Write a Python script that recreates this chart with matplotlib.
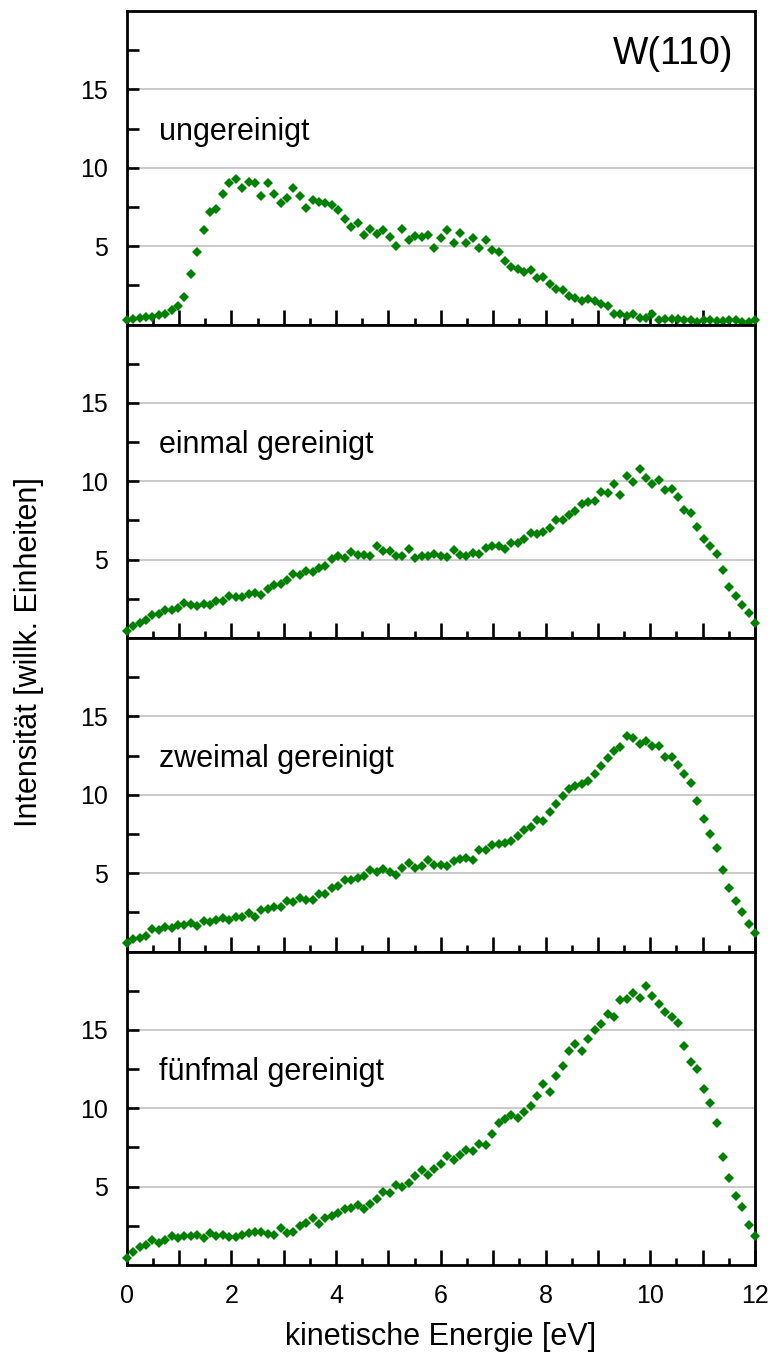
import numpy as np
import matplotlib
matplotlib.use("Agg")
import matplotlib.pyplot as plt
from matplotlib.ticker import MultipleLocator

plt.rcParams['font.family'] = ['Liberation Sans', 'DejaVu Sans']

# kinetic energy axis, 99 channels from 0 to 12 eV
energie = np.linspace(0, 12, 99)

ungereinigt = [
    0.30, 0.34, 0.43, 0.47, 0.47, 0.60, 0.68, 0.90, 1.15, 1.75,
    3.2, 4.6, 6.0, 7.2, 7.35, 8.35, 9.0, 9.3, 8.7, 9.1,
    9.0, 8.2, 9.0, 8.3, 7.75, 8.1, 8.7, 8.2, 7.45, 7.95,
    7.8, 7.75, 7.65, 7.3, 6.7, 6.25, 6.5, 5.7, 6.1, 5.8,
    6.05, 5.6, 5.0, 6.1, 5.36, 5.64, 5.57, 5.68, 4.89, 5.49,
    6.0, 5.23, 5.85, 5.23, 5.49, 4.89, 5.38, 4.77, 4.6, 4.06,
    3.66, 3.53, 3.34, 3.45, 2.94, 3.06, 2.6, 2.26, 2.17, 1.79,
    1.7, 1.53, 1.64, 1.49, 1.32, 1.15, 0.68, 0.68, 0.55, 0.68,
    0.43, 0.43, 0.64, 0.26, 0.34, 0.34, 0.34, 0.3, 0.26, 0.17,
    0.26, 0.26, 0.21, 0.21, 0.3, 0.26, 0.13, 0.17, 0.26,
]

einmal = [
    0.42, 0.78, 0.95, 1.12, 1.44, 1.55, 1.8, 1.76, 1.93, 2.23,
    2.12, 2.04, 2.19, 2.12, 2.38, 2.36, 2.66, 2.61, 2.61, 2.78,
    2.87, 2.72, 3.14, 3.4, 3.42, 3.68, 4.06, 4.04, 4.27, 4.23,
    4.48, 4.59, 5.04, 5.23, 5.1, 5.47, 5.28, 5.27, 5.21, 5.9,
    5.52, 5.58, 5.22, 5.26, 5.68, 5.1, 5.23, 5.2, 5.36, 5.26,
    5.15, 5.6, 5.28, 5.2, 5.43, 5.39, 5.71, 5.89, 5.88, 5.69,
    6.07, 6.03, 6.33, 6.72, 6.65, 6.76, 7.04, 7.55, 7.5, 7.82,
    8.08, 8.57, 8.66, 8.74, 9.29, 9.27, 9.82, 9.1, 10.33, 9.97,
    10.78, 10.2, 9.82, 10.08, 9.46, 9.53, 9.0, 8.14, 7.97, 7.08,
    6.33, 5.89, 5.34, 4.31, 3.26, 2.7, 2.08, 1.59, 0.98,
]

zweimal = [
    0.57, 0.77, 0.87, 1.0, 1.43, 1.34, 1.55, 1.51, 1.7, 1.66,
    1.83, 1.64, 1.94, 1.87, 1.98, 2.15, 1.98, 2.23, 2.19, 2.45,
    2.23, 2.62, 2.7, 2.83, 2.83, 3.21, 3.15, 3.43, 3.3, 3.3,
    3.68, 3.64, 4.06, 4.15, 4.53, 4.57, 4.66, 4.83, 5.17, 5.09,
    5.26, 5.09, 4.85, 5.34, 5.64, 5.34, 5.47, 5.81, 5.55, 5.53,
    5.45, 5.77, 5.87, 5.98, 5.81, 6.49, 6.45, 6.79, 6.83, 6.94,
    7.04, 7.36, 7.77, 7.94, 8.36, 8.3, 8.87, 9.43, 9.94, 10.38,
    10.57, 10.66, 10.87, 11.34, 11.83, 12.36, 12.79, 13.04, 13.74, 13.62,
    13.21, 13.43, 13.11, 13.09, 12.4, 12.4, 11.87, 11.3, 10.74, 9.57,
    8.43, 7.47, 6.62, 5.17, 4.06, 3.21, 2.51, 1.77, 1.21,
]

fuenfmal = [
    0.47, 0.85, 1.15, 1.28, 1.62, 1.4, 1.62, 1.87, 1.72, 1.83,
    1.83, 1.91, 1.74, 2.02, 1.87, 1.91, 1.77, 1.81, 1.91, 2.02,
    2.09, 2.13, 1.98, 1.94, 2.36, 2.02, 2.09, 2.47, 2.66, 3.0,
    2.62, 3.0, 3.11, 3.32, 3.57, 3.66, 3.83, 3.57, 3.87, 4.21,
    4.64, 4.6, 5.13, 5.0, 5.21, 5.68, 6.04, 5.77, 6.11, 6.42,
    6.94, 6.72, 7.02, 7.36, 7.26, 7.7, 7.68, 8.36, 9.04, 9.32,
    9.6, 9.38, 9.79, 10.17, 10.77, 11.53, 11.02, 12.04, 12.68, 13.66,
    14.11, 13.66, 14.43, 15.02, 15.36, 16.0, 15.81, 16.91, 16.98, 17.38,
    17.06, 17.79, 17.19, 16.66, 16.13, 15.81, 15.43, 14.0, 12.94, 12.51,
    11.23, 10.34, 9.06, 6.87, 5.53, 4.38, 3.7, 2.57, 1.87,
]

reihen = [ungereinigt, einmal, zweimal, fuenfmal]
namen = ["ungereinigt", "einmal gereinigt", "zweimal gereinigt", "fünfmal gereinigt"]
xtick_labels = ["0", "", "2", "", "4", "", "6", "", "8", "", "10", "", "12"]

W, H = 770, 1356
fig = plt.figure(figsize=(W / 100, H / 100), dpi=100)
gs = fig.add_gridspec(4, 1, left=126.7 / W, right=755 / W,
                      top=1 - 11 / H, bottom=1 - 1265 / H, hspace=0)

axes = []
for k, (werte, name) in enumerate(zip(reihen, namen)):
    ax = fig.add_subplot(gs[k], sharex=axes[0] if axes else None)
    axes.append(ax)

    ax.plot(energie, werte, linestyle="none", marker="D", markersize=5.3,
            color="#008000", markeredgewidth=0, clip_on=False, zorder=5)

    ax.set_xlim(0, 12)
    ax.set_ylim(0, 20)
    ax.set_yticks([5, 10, 15])
    ax.set_yticks([2.5, 7.5, 12.5, 17.5], minor=True)
    ax.grid(axis="y", which="major", color="#c6c6c6", linewidth=1.3)
    ax.set_axisbelow(True)

    ax.xaxis.set_minor_locator(MultipleLocator(0.5))
    ax.tick_params(axis="x", which="major", direction="in", length=10.5,
                   width=1.9, top=False, labelsize=18, pad=14)
    ax.tick_params(axis="x", which="minor", direction="in", length=5,
                   width=1.9, top=False)
    ax.tick_params(axis="y", which="both", direction="in", length=8.5,
                   width=1.9, right=False, labelsize=18, pad=13.5)
    for s in ax.spines.values():
        s.set_linewidth(2.0)

    ax.text(0.62, 11.8, name, fontsize=22, ha="left", va="baseline")

    if k < 3:
        ax.tick_params(axis="x", labelbottom=False)

axes[-1].set_xticks(range(13))
axes[-1].set_xticklabels(xtick_labels)

axes[0].text(11.58, 16.6, "W(110)", fontsize=27, ha="right", va="baseline")

fig.text(441 / W, 1 - 1337 / H, "kinetische Energie [eV]", fontsize=22,
         ha="center", va="center")
fig.text(29 / W, 1 - 652 / H, "Intensität [willk. Einheiten]", fontsize=22,
         ha="center", va="center", rotation=90)

fig.savefig("out.png", dpi=100)
